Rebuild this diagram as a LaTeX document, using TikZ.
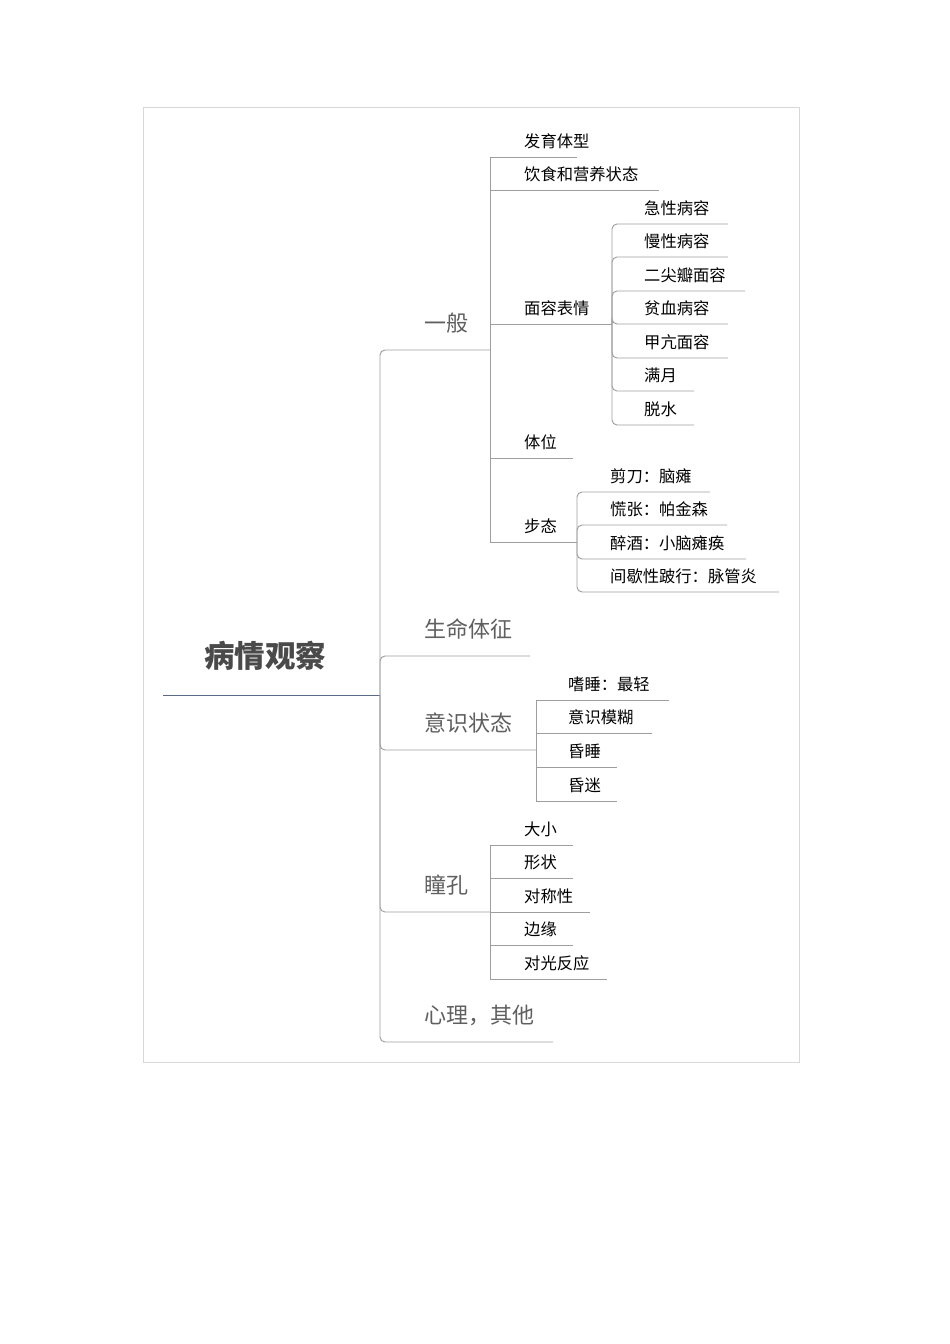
\documentclass[tikz,border=0pt]{standalone}
\usepackage{fontspec}
\newfontfamily\cjk{Noto Sans CJK SC}
\definecolor{linec}{HTML}{9E9E9E}
\definecolor{framec}{HTML}{D8D8D8}
\definecolor{rootline}{HTML}{5A6A88}
\definecolor{lvonec}{HTML}{5F5F5F}
\definecolor{rootc}{HTML}{4A4A4A}
\tikzset{
  ln/.style={draw=linec, line width=0.95pt},
  lnr/.style={ln, rounded corners=5pt},
  lvtwo/.style={font=\cjk\fontsize{16.3pt}{18pt}\selectfont, text=black, inner sep=0pt, anchor=west},
  lvone/.style={font=\cjk\fontsize{22pt}{24pt}\selectfont, text=lvonec, inner sep=0pt, anchor=west},
  rootnode/.style={font=\cjk\bfseries\fontsize{30.5pt}{32pt}\selectfont, text=rootc, inner sep=0pt},
}
% #1 line style, #2 name, #3 from coordinate, #4 line y, #5 line end x, #6 text x, #7 text
\newcommand\kid[7]{%
  \coordinate (#2e) at (#5,#4);
  \draw[#1] (#3) |- (#2e);
  \node[lvtwo] (#2) at (#6,#4-16) {#7};
}
\newcommand\branch[5]{%
  \coordinate (#1e) at (#3,#2);
  \draw[lnr] (r) |- (#1e);
  \node[lvone] (#1) at (424,#2-27) {#4};
}
\begin{document}
\begin{tikzpicture}[x=1pt,y=-1pt]
\useasboundingbox (0,0) rectangle (950,1344);
\draw[draw=framec, line width=0.8pt] (143,107) rectangle (799,1062);
% root
\node[rootnode] (root) at (265,656) {病情观察};
\coordinate (rl) at (163,695);
\coordinate (r) at (380,695);
\draw[draw=rootline, line width=1pt] (rl) -- (r);
% level one
\branch{yb}{350}{490}{一般}{}
\branch{sm}{656}{530}{生命体征}{}
\branch{ys}{750}{536}{意识状态}{}
\branch{tk}{912}{490}{瞳孔}{}
\branch{xl}{1042}{553}{心理，其他}{}
% 一般
\kid{ln}{fy}{ybe}{157}{577}{524}{发育体型}
\kid{ln}{ys2}{ybe}{190}{659}{524}{饮食和营养状态}
\kid{ln}{mr}{ybe}{324}{612}{524}{面容表情}
\kid{ln}{tw}{ybe}{458}{573}{524}{体位}
\kid{ln}{bt}{ybe}{542}{577}{524}{步态}
% 面容表情
\kid{lnr}{m1}{mre}{224}{728}{644}{急性病容}
\kid{lnr}{m2}{mre}{257}{728}{644}{慢性病容}
\kid{lnr}{m3}{mre}{291}{745}{644}{二尖瓣面容}
\kid{lnr}{m4}{mre}{324}{728}{644}{贫血病容}
\kid{lnr}{m5}{mre}{358}{728}{644}{甲亢面容}
\kid{lnr}{m6}{mre}{391}{694}{644}{满月}
\kid{lnr}{m7}{mre}{425}{694}{644}{脱水}
% 步态
\kid{lnr}{b1}{bte}{492}{710}{610}{剪刀：脑瘫}
\kid{lnr}{b2}{bte}{525}{727}{610}{慌张：帕金森}
\kid{lnr}{b3}{bte}{559}{746}{610}{醉酒：小脑瘫痪}
\kid{lnr}{b4}{bte}{592}{779}{610}{间歇性跛行：脉管炎}
% 意识状态
\kid{ln}{s1}{yse}{700}{669}{568}{嗜睡：最轻}
\kid{ln}{s2}{yse}{733}{652}{568}{意识模糊}
\kid{ln}{s3}{yse}{767}{617}{568}{昏睡}
\kid{ln}{s4}{yse}{801}{617}{568}{昏迷}
% 瞳孔
\kid{ln}{t1}{tke}{845}{573}{524}{大小}
\kid{ln}{t2}{tke}{878}{573}{524}{形状}
\kid{ln}{t3}{tke}{912}{590}{524}{对称性}
\kid{ln}{t4}{tke}{945}{573}{524}{边缘}
\kid{ln}{t5}{tke}{979}{607}{524}{对光反应}
\end{tikzpicture}
\end{document}
